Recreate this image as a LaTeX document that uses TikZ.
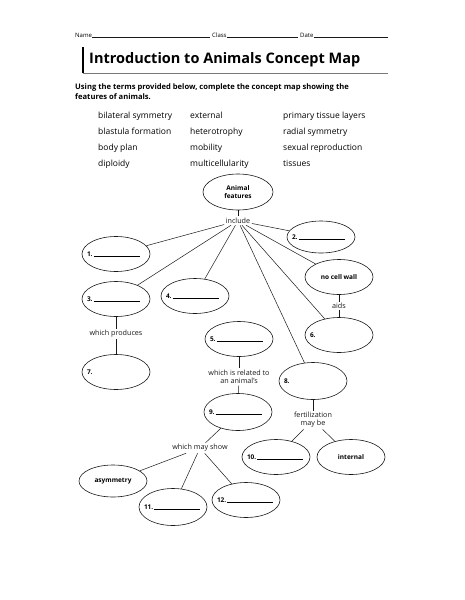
\documentclass[tikz,border=0pt]{standalone}
\usepackage{fontspec}
\setmainfont{Open Sans}
\usetikzlibrary{shapes.geometric, positioning}
\definecolor{inkblack}{RGB}{25,25,25}
\definecolor{rulegray}{RGB}{120,120,120}
\tikzset{
  bubble/.style={ellipse, draw=inkblack, line width=0.6pt, minimum width=68pt,
                 minimum height=35pt, inner sep=0pt,
                 font=\fontsize{6.5}{7.5}\selectfont\bfseries},
  linkword/.style={font=\fontsize{7.2}{8.2}\selectfont, align=center,
                   inner sep=1.5pt, text=inkblack},
  term/.style={anchor=base west, inner sep=0pt,
               font=\fontsize{8.5}{10}\selectfont},
  link/.style={line width=0.5pt, color=inkblack}
}
\newcommand{\blankline}{\rule[-0.6pt]{46pt}{0.5pt}}
\newcommand{\slot}[1]{\makebox[0pt]{\makebox[58pt][l]{#1}}}

\begin{document}
\begin{tikzpicture}[x=1pt, y=-1pt,
  hdr/.style={anchor=base west, inner sep=0pt, font=\fontsize{6}{7}\selectfont},
  headline/.style={font=\fontsize{14.5}{16}\selectfont\bfseries, inner sep=0pt},
  instr/.style={font=\fontsize{7.6}{10}\selectfont\bfseries, align=left, inner sep=0pt}
]
  \useasboundingbox (0,0) rectangle (464,600);

  % Header
  \node[hdr] (name)  at (75,37)  {Name};
  \node[hdr] (class) at (212,37) {Class};
  \node[hdr] (date)  at (300,37) {Date};
  \coordinate (dateend) at (388,37);
  \draw[link] (name.base east) -- ([xshift=-2pt]class.base west);
  \draw[link] (class.base east) -- ([xshift=-2pt]date.base west);
  \draw[link] (date.base east) -- (dateend);

  % Title
  \node[headline, anchor=west] (title) at (89,60) {Introduction to Animals Concept Map};
  \draw[line width=1.6pt] (83,47) -- (83,73);
  \draw[rulegray] (83,73) -- (388,73);

  % Instructions and terms
  \node[instr, anchor=north west] (instr) at (75,84)
    {Using the terms provided below, complete the concept map showing the\\
     features of animals.};
  \node[term] (t1)  at (98,118)  {bilateral symmetry};
  \node[term] (t2)  at (98,134)  {blastula formation};
  \node[term] (t3)  at (98,150)  {body plan};
  \node[term] (t4)  at (98,166)  {diploidy};
  \node[term] (t5)  at (190,118) {external};
  \node[term] (t6)  at (190,134) {heterotrophy};
  \node[term] (t7)  at (190,150) {mobility};
  \node[term] (t8)  at (190,166) {multicellularity};
  \node[term] (t9)  at (283,118) {primary tissue layers};
  \node[term] (t10) at (283,134) {radial symmetry};
  \node[term] (t11) at (283,150) {sexual reproduction};
  \node[term] (t12) at (283,166) {tissues};

  % Concept map nodes
  \node[bubble, minimum width=70pt, minimum height=36pt, align=center]
        (animal) at (238,192) {Animal\\features};
  \node[linkword, below=6pt of animal] (include) {include};
  \node[bubble, minimum height=32pt] (b2) at (321,237) {\slot{2.\,\blankline}};
  \node[bubble] (b1) at (116,254) {\slot{1.\,\blankline}};
  \node[bubble] (nowall) at (339,277) {no cell wall};
  \node[bubble] (b3) at (116,299) {\slot{3.\,\blankline}};
  \node[bubble] (b4) at (195,296) {\slot{4.\,\blankline}};
  \node[linkword] (aids) at (339,306) {aids};
  \node[bubble] (b6) at (339,335) {\slot{6.}};
  \node[linkword] (produces) at (116,334) {which produces};
  \node[bubble] (b7) at (116,372) {\slot{7.}};
  \node[bubble] (b5) at (239,339) {\slot{5.\,\blankline}};
  \node[linkword] (related) at (239,377) {which is related to\\an animal's};
  \node[bubble, minimum height=37pt] (b8) at (313,381) {\slot{8.}};
  \node[bubble, minimum height=37pt] (b9) at (238,412) {\slot{9.\,\blankline}};
  \node[linkword] (fert) at (313,420) {fertilization\\may be};
  \node[linkword] (mayshow) at (200,448) {which may show};
  \node[bubble] (b10) at (276,457) {\slot{10.\,\blankline}};
  \node[bubble] (internal) at (351,457) {internal};
  \node[bubble, minimum height=32pt] (asym) at (113,481) {asymmetry};
  \node[bubble] (b12) at (246,500) {\slot{12.\,\blankline}};
  \node[bubble, minimum height=37pt] (b11) at (173,507) {\slot{11.\,\blankline}};

  % Connectors
  \draw[link] (animal) -- (include);
  \draw[link] (include) -- (b1);
  \draw[link] (include) -- (b3);
  \draw[link] (include) -- (b4);
  \draw[link] (include) -- (b8);
  \draw[link] (include) -- (b6);
  \draw[link] (include) -- (nowall);
  \draw[link] (include) -- (b2);
  \draw[link] (nowall) -- (aids); \draw[link] (aids) -- (b6);
  \draw[link] (b3) -- (produces); \draw[link] (produces) -- (b7);
  \draw[link] (b5) -- (related); \draw[link] (related) -- (b9);
  \draw[link] (b8) -- (fert);
  \draw[link] (fert) -- (b10); \draw[link] (fert) -- (internal);
  \draw[link] (b9) -- (mayshow);
  \draw[link] (mayshow) -- (asym);
  \draw[link] (mayshow) -- (b11);
  \draw[link] (mayshow) -- (b12);

\end{tikzpicture}
\end{document}
